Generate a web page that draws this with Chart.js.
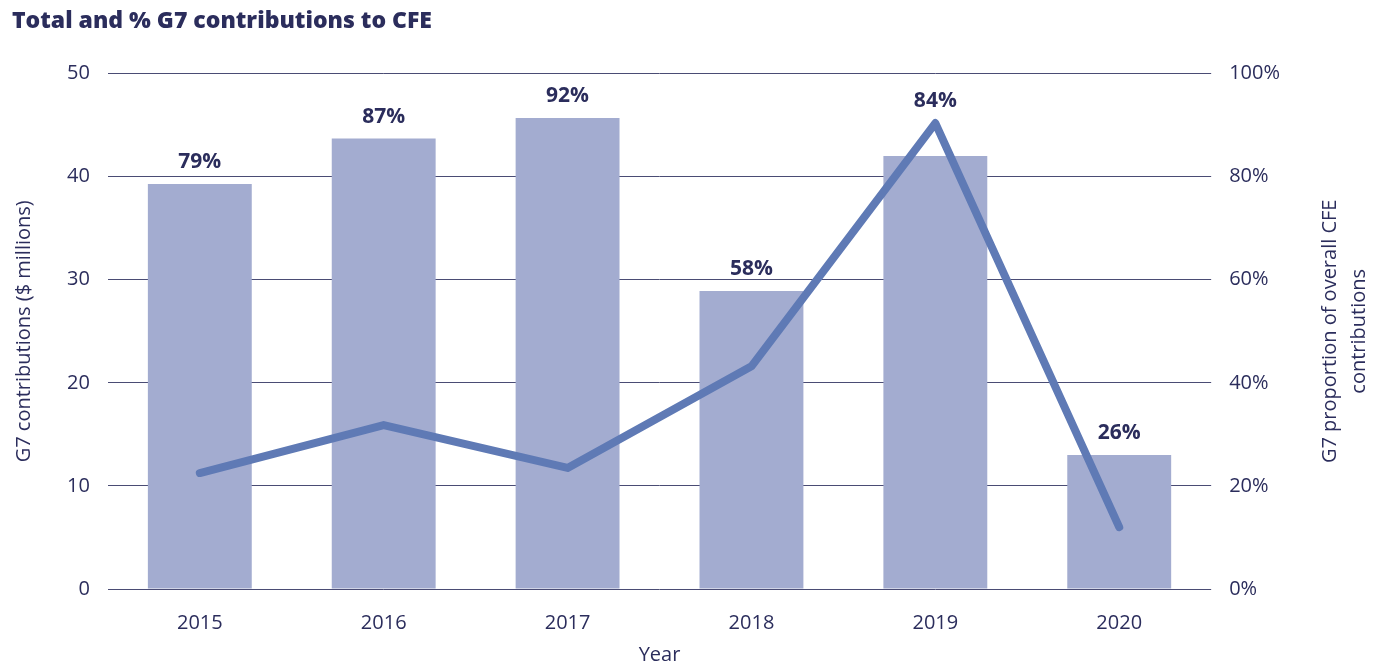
<!DOCTYPE html>
<html>
<head>
<meta charset="utf-8">
<script src="https://cdn.jsdelivr.net/npm/chart.js@4/dist/chart.umd.min.js"></script>
<style>
  html, body { margin: 0; padding: 0; background: #fff; }
  #wrap { width: 1384px; height: 670px; }
</style>
</head>
<body>
<div id="wrap"><canvas id="g7-chart"></canvas></div>
<script>
    var years = ["2015", "2016", "2017", "2018", "2019", "2020"];
    var contributions = [39.3, 43.7, 45.7, 28.9, 42.0, 13.0];
    var proportionLine = [22.5, 31.8, 23.5, 43.2, 90.4, 12.0];
    var pctLabels = ["79%", "87%", "92%", "58%", "84%", "26%"];

    var navy = "#2b2d5c";
    var fam = "'Open Sans'";

    // labels above the bar (or above the line point if it's higher)
    var pctLabelPlugin = {
      id: "pctLabels",
      afterDatasetsDraw: function(chart) {
        var ctx = chart.ctx;
        var bars = chart.getDatasetMeta(0).data;
        var pts = chart.getDatasetMeta(1).data;
        ctx.save();
        ctx.font = "bold 21px " + fam;
        ctx.fillStyle = navy;
        ctx.textAlign = "center";
        ctx.textBaseline = "middle";
        for (var i = 0; i < bars.length; i++) {
          var top = Math.min(bars[i].y, pts[i].y);
          ctx.fillText(pctLabels[i], bars[i].x, top - 22);
        }
        ctx.restore();
      }
    };

    // right axis title reads bottom-to-top, chart.js rotates the other way
    var rightTitlePlugin = {
      id: "rightTitle",
      afterDraw: function(chart) {
        var ctx = chart.ctx;
        var area = chart.chartArea;
        var cy = (area.top + area.bottom) / 2;
        ctx.save();
        ctx.font = "20px " + fam;
        ctx.fillStyle = navy;
        ctx.textAlign = "center";
        ctx.textBaseline = "middle";
        ctx.translate(1330, cy);
        ctx.rotate(-Math.PI / 2);
        ctx.fillText("G7 proportion of overall CFE", 0, 0);
        ctx.fillText("contributions", 0, 29);
        ctx.restore();
      }
    };

    new Chart(document.getElementById("g7-chart"), {
      type: 'bar',
      data: {
        labels: years,
        datasets: [{
          type: 'bar',
          label: "G7 contributions",
          backgroundColor: "#a3acd0",
          data: contributions,
          yAxisID: 'y',
          categoryPercentage: 1,
          barPercentage: 0.565,
          order: 1
        }, {
          type: 'line',
          label: "G7 proportion",
          borderColor: "#5f7ab5",
          borderWidth: 8,
          borderCapStyle: 'round',
          borderJoinStyle: 'round',
          pointRadius: 0,
          tension: 0,
          data: proportionLine,
          yAxisID: 'y1',
          order: 0
        }]
      },
      options: {
        responsive: true,
        maintainAspectRatio: false,
        animation: false,
        layout: { padding: { left: 12, right: 86, top: 0, bottom: -1 } },
        plugins: {
          legend: { display: false },
          tooltip: { enabled: false },
          title: {
            display: true,
            text: 'Total and % G7 contributions to CFE',
            align: 'start',
            color: navy,
            font: { family: fam, size: 23, weight: 800 },
            padding: { top: 8, bottom: 38 }
          }
        },
        scales: {
          x: {
            grid: { display: false },
            border: { display: false },
            ticks: { color: navy, font: { family: fam, size: 20 }, padding: 14 },
            title: { display: true, text: 'Year', color: navy, font: { family: fam, size: 20 }, padding: { top: -6 } }
          },
          y: {
            position: 'left',
            min: 0, max: 50,
            ticks: { stepSize: 10, color: navy, font: { family: fam, size: 20 }, padding: 18 },
            grid: { color: "#4a4c74", lineWidth: 1, drawTicks: false },
            border: { display: false },
            title: { display: true, text: 'G7 contributions ($ millions)', color: navy, font: { family: fam, size: 20 }, padding: { top: 0, bottom: 13 } }
          },
          y1: {
            position: 'right',
            min: 0, max: 100,
            ticks: { stepSize: 20, color: navy, font: { family: fam, size: 20 }, padding: 18,
              callback: function(v) { return v + "%"; } },
            grid: { display: false, drawTicks: false },
            border: { display: false }
          }
        }
      },
      plugins: [pctLabelPlugin, rightTitlePlugin]
    });
</script>
</body>
</html>
